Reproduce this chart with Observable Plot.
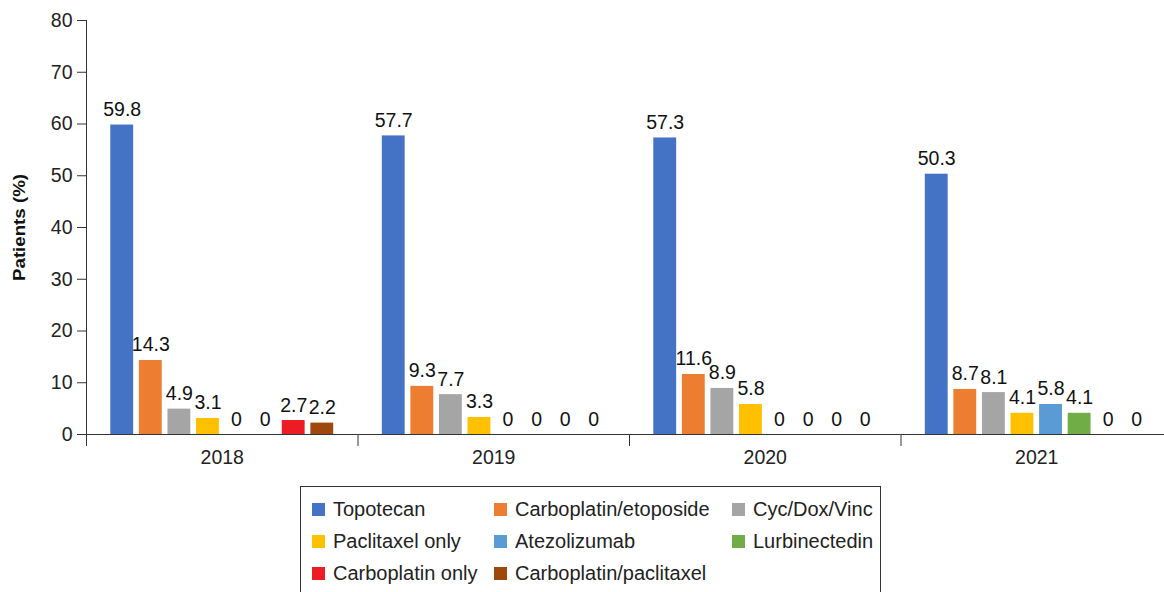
<!DOCTYPE html>
<html><head><meta charset="utf-8">
<script src="https://cdn.jsdelivr.net/npm/d3@7"></script>
<script src="https://cdn.jsdelivr.net/npm/@observablehq/plot@0.6"></script>
<style>
body{margin:0;background:#fff;font-family:"Liberation Sans",Arial,Helvetica,sans-serif;}
#chart svg{display:block;overflow:visible}
g[aria-label="y-axis label"] text{font-weight:bold;font-size:16px;}
#legend{position:relative;margin-left:300px;margin-top:6px;height:112px;border:1px solid #333;display:grid;grid-template-columns:182px 238px auto;grid-auto-rows:32px;padding:6px 0 0 11px;box-sizing:border-box;width:581px;font-size:20px;color:#222;}
.item{display:flex;align-items:center;white-space:nowrap;}
.sw{width:13px;height:13px;margin-right:8px;flex:none;}
</style></head>
<body>
<div id="chart"></div>
<div id="legend"></div>
<script>
const years = ["2018", "2019", "2020", "2021"];
const series = ["Topotecan", "Carboplatin/etoposide", "Cyc/Dox/Vinc", "Paclitaxel only", "Atezolizumab", "Lurbinectedin", "Carboplatin only", "Carboplatin/paclitaxel"];
const colors = ["#4472C4", "#ED7D31", "#A5A5A5", "#FFC000", "#5B9BD5", "#70AD47", "#ED1C24", "#9E480E"];
const v2018 = [59.8, 14.3, 4.9, 3.1, 0, 0, 2.7, 2.2];
const v2019 = [57.7, 9.3, 7.7, 3.3, 0, 0, 0, 0];
const v2020 = [57.3, 11.6, 8.9, 5.8, 0, 0, 0, 0];
const v2021 = [50.3, 8.7, 8.1, 4.1, 5.8, 4.1, 0, 0];
const yTicks = [0, 10, 20, 30, 40, 50, 60, 70, 80];

const valuesByYear = [v2018, v2019, v2020, v2021];
const table = [];
years.forEach((yr, i) => series.forEach((s, j) => table.push({year: yr, series: s, value: valuesByYear[i][j]})));

const plot = Plot.plot({
  width: 1164, height: 480,
  marginLeft: 86, marginRight: -8, marginTop: 20, marginBottom: 46,
  style: {fontFamily: '"Liberation Sans", Arial, Helvetica, sans-serif', fontSize: "19.5px", color: "#222", overflow: "visible"},
  fx: {domain: years, padding: 0, label: null, round: false},
  x: {domain: series, paddingInner: 0.2, paddingOuter: 0.85, axis: null, round: false},
  y: {domain: [0, 80], label: null},
  color: {domain: series, range: colors},
  marks: [
    Plot.axisY({ticks: yTicks, tickSize: 9, tickPadding: 5, label: null, fontSize: 19.5, stroke: "#333", fill: "#222"}),
    Plot.axisY({ticks: [], label: "Patients (%)", labelAnchor: "center", labelArrow: "none", labelOffset: 73, fill: "#111"}),
    Plot.axisFx({anchor: "bottom", tickSize: 0, tickPadding: 16, label: null, fontSize: 19.5, fill: "#222"}),
    Plot.barY(table, {fx: "year", x: "series", y: "value", fill: "series"}),
    Plot.ruleY([0], {stroke: "#333", strokeWidth: 1}),
    Plot.frame({anchor: "left", insetTop: 414, insetBottom: -11, stroke: "#333"}),
    Plot.frame({anchor: "left", facet: "super", stroke: "#333"}),
    Plot.text(table, {fx: "year", x: "series", y: "value", text: d => String(d.value), lineAnchor: "bottom", dy: -9, fill: "#111", fontSize: 19.5})
  ]
});
document.getElementById("chart").appendChild(plot);
const lab = plot.querySelector('g[aria-label="y-axis label"] text');
if (lab) { lab.setAttribute("textLength", "107"); lab.setAttribute("lengthAdjust", "spacingAndGlyphs"); }

const legend = document.getElementById("legend");
series.forEach((s, i) => {
  const it = document.createElement("div");
  it.className = "item";
  it.innerHTML = `<span class="sw" style="background:${colors[i]}"></span><span>${s}</span>`;
  legend.appendChild(it);
});
</script>
</body></html>
